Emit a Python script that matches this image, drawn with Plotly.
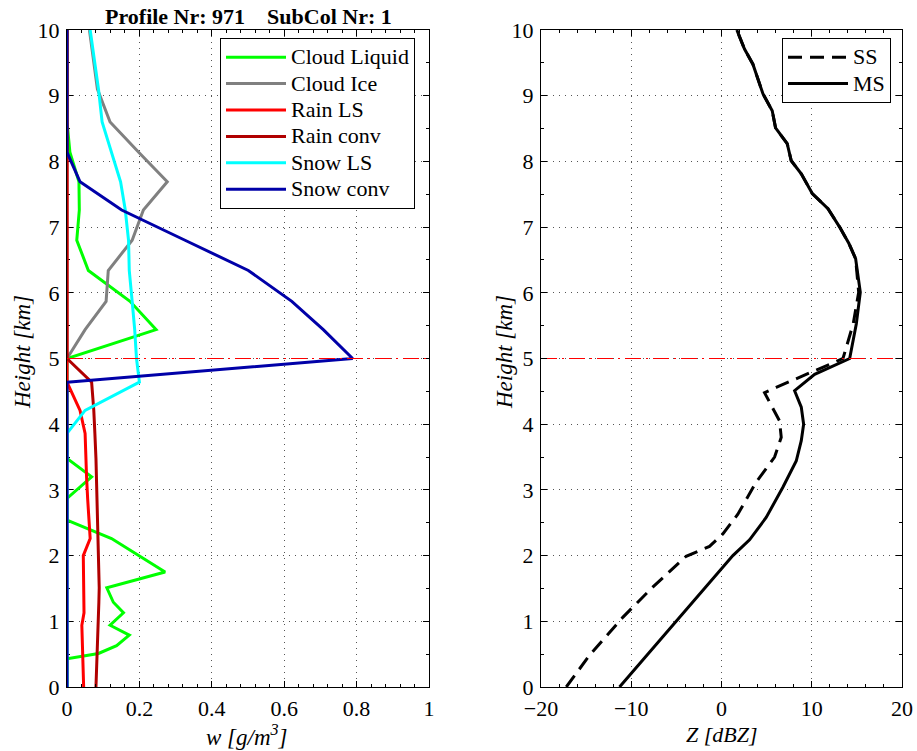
import plotly.graph_objects as go

# ---- hydrometeor profiles (model levels, km) ----
levels_km = [0.0, 0.43, 0.51, 0.63, 0.79, 0.94, 1.13, 1.29, 1.51, 1.75, 2.0, 2.26,
             2.54, 2.87, 3.2, 3.48, 3.86, 4.21, 4.64, 5.0, 5.44, 5.87, 6.34, 6.8,
             7.26, 7.69, 8.14, 8.6, 9.1, 9.6, 10.0]

cloud_liquid = [0.0, 0.0, 0.087, 0.137, 0.172, 0.119, 0.156, 0.128, 0.110, 0.271, 0.198, 0.123,
                0.0, 0.0, 0.068, 0.0, 0.0, 0.0, 0.0, 0.0, 0.246, 0.174, 0.059, 0.027,
                0.034, 0.033, 0.008, 0.0, 0.0, 0.0, 0.0]
cloud_ice = [0.0, 0.0, 0.0, 0.0, 0.0, 0.0, 0.0, 0.0, 0.0, 0.0, 0.0, 0.0,
             0.0, 0.0, 0.0, 0.0, 0.0, 0.0, 0.0, 0.0, 0.050, 0.108, 0.114, 0.180,
             0.211, 0.277, 0.198, 0.119, 0.084, 0.072, 0.062]
rain_ls = [0.046, 0.044, 0.044, 0.043, 0.042, 0.041, 0.047, 0.047, 0.046, 0.046, 0.045, 0.064,
           0.060, 0.057, 0.054, 0.052, 0.050, 0.036, 0.0, 0.0, 0.0, 0.0, 0.0, 0.0,
           0.0, 0.0, 0.0, 0.0, 0.0, 0.0, 0.0]
rain_conv = [0.080, 0.083, 0.084, 0.085, 0.086, 0.087, 0.088, 0.088, 0.089, 0.088, 0.087, 0.086,
             0.085, 0.084, 0.082, 0.080, 0.077, 0.074, 0.068, 0.0, 0.0, 0.0, 0.0, 0.0,
             0.0, 0.0, 0.0, 0.0, 0.0, 0.0, 0.0]
snow_ls = [0.0, 0.0, 0.0, 0.0, 0.0, 0.0, 0.0, 0.0, 0.0, 0.0, 0.0, 0.0,
           0.0, 0.0, 0.0, 0.0, 0.0, 0.050, 0.200, 0.192, 0.187, 0.180, 0.172, 0.170,
           0.161, 0.148, 0.122, 0.097, 0.087, 0.075, 0.064]
snow_conv = [0.0, 0.0, 0.0, 0.0, 0.0, 0.0, 0.0, 0.0, 0.0, 0.0, 0.0, 0.0,
             0.0, 0.0, 0.0, 0.0, 0.0, 0.0, 0.0, 0.789, 0.708, 0.621, 0.501, 0.326,
             0.151, 0.036, 0.0, 0.0, 0.0, 0.0, 0.0]

# ---- radar reflectivity profiles ----
ms_height = [0.0, 1.24, 2.0, 2.24, 2.58, 3.04, 3.44, 3.75, 4.0, 4.26, 4.51, 4.76, 5.0,
             5.53, 6.01, 6.52, 6.75, 7.0, 7.28, 7.51, 7.81, 8.01, 8.27, 8.51, 8.77,
             9.03, 9.48, 9.71, 10.0]
ms_dbz = [-11.3, -3.55, 1.26, 3.11, 4.95, 6.80, 8.28, 8.84, 9.10, 8.84, 8.10, 10.32, 14.20,
          14.94, 15.38, 14.86, 14.12, 13.09, 11.80, 10.06, 8.84, 7.73, 7.28, 5.99, 5.62,
          4.59, 3.48, 2.55, 1.70]
ss_height = [0.0, 0.48, 1.06, 1.52, 1.99, 2.14, 2.33, 2.63, 3.12, 3.5, 3.8, 4.05, 4.48,
             4.56, 5.0, 5.53, 6.01, 6.52, 6.75, 7.0, 7.28, 7.51, 7.81, 8.01, 8.27, 8.51,
             8.77, 9.03, 9.48, 9.71, 10.0]
ss_dbz = [-17.2, -14.64, -10.94, -7.62, -3.92, -1.33, 0.15, 1.81, 3.85, 5.88, 6.62, 6.43, 4.77,
          6.06, 13.46, 14.6, 15.2, 14.86, 14.12, 13.09, 11.80, 10.06, 8.84, 7.73, 7.28, 5.99,
          5.62, 4.59, 3.48, 2.55, 1.70]

melting_layer_km = 5.0
title_text = "Profile Nr: 971    SubCol Nr: 1"

W, H = 917, 751
FONT = "Liberation Serif, Times New Roman, Times, DejaVu Serif, serif"
LEGEND_TEXT_PX = 22


def px_x(p):
    return p / W


def px_y(p):
    return 1 - p / H


def legend_label(s):
    return '<span style="font-size:%dpx">%s</span>' % (LEGEND_TEXT_PX, s)


fig = go.Figure()

hydro = [
    ("Cloud Liquid", cloud_liquid, "#00ff00"),
    ("Cloud Ice", cloud_ice, "#808080"),
    ("Rain LS", rain_ls, "#ff0000"),
    ("Rain conv", rain_conv, "#b00000"),
    ("Snow LS", snow_ls, "#00ffff"),
    ("Snow conv", snow_conv, "#0000a8"),
]
for name, vals, col in hydro:
    fig.add_trace(go.Scatter(x=vals, y=levels_km, mode="lines", name=legend_label(name),
                             line=dict(color=col, width=3), xaxis="x", yaxis="y",
                             legend="legend"))

fig.add_trace(go.Scatter(x=ss_dbz, y=ss_height, mode="lines", name=legend_label("SS"),
                         line=dict(color="black", width=3, dash="14px,8px"),
                         xaxis="x2", yaxis="y2", legend="legend2"))
fig.add_trace(go.Scatter(x=ms_dbz, y=ms_height, mode="lines", name=legend_label("MS"),
                         line=dict(color="black", width=3),
                         xaxis="x2", yaxis="y2", legend="legend2"))

# melting layer marker on both panels
for xa, ya, rng in [("x", "y", [0, 1]), ("x2", "y2", [-20, 20])]:
    fig.add_trace(go.Scatter(x=rng, y=[melting_layer_km] * 2, mode="lines",
                             line=dict(color="red", width=1, dash="16px,5px,2px,5px"),
                             xaxis=xa, yaxis=ya, showlegend=False, hoverinfo="skip"))

y_dom = [px_y(687), px_y(30)]
axis_common = dict(
    automargin=False,
    showline=True, linecolor="black", linewidth=1, mirror="ticks",
    ticks="inside", ticklen=6, tickwidth=1, tickcolor="black",
    showgrid=True, gridcolor="#555555", gridwidth=1, griddash="1px,5px",
    zeroline=False, tickfont=dict(family=FONT, size=22, color="black"),
    minor=dict(ticks="inside", ticklen=3, tickcolor="black", showgrid=False),
)

legend_common = dict(
    yanchor="top", xanchor="left", bgcolor="white", bordercolor="black", borderwidth=1,
    font=dict(family=FONT, size=18, color="black"), itemwidth=60, tracegroupgap=0,
)

fig.update_layout(
    template="none",
    width=W, height=H, margin=dict(l=0, r=0, t=0, b=0, autoexpand=False),
    paper_bgcolor="white", plot_bgcolor="white",
    font=dict(family=FONT, color="black"),
    xaxis=dict(domain=[px_x(67), px_x(429)], range=[0, 1], dtick=0.2,
               anchor="y", ticklabelstandoff=2, **axis_common),
    yaxis=dict(domain=y_dom, range=[0, 10], dtick=1, anchor="x", ticklabelstandoff=2,
               layer="below traces", **axis_common),
    xaxis2=dict(domain=[px_x(541), px_x(902)], range=[-20, 20], dtick=10,
                anchor="y2", ticklabelstandoff=2, **axis_common),
    yaxis2=dict(domain=y_dom, range=[0, 10], dtick=1, anchor="x2", ticklabelstandoff=2,
                **axis_common),
    legend=dict(x=px_x(220), y=px_y(38), **legend_common),
    legend2=dict(x=px_x(782), y=px_y(38), **legend_common),
)
fig.layout.xaxis.minor.dtick = 0.04
fig.layout.yaxis.minor.dtick = 0.5
fig.layout.xaxis2.minor.dtick = 2
fig.layout.yaxis2.minor.dtick = 0.5

annots = [
    dict(text="<b>" + title_text.replace(" ", "&nbsp;") + "</b>", x=px_x(248), y=px_y(16),
         size=22, angle=0),
    dict(text="<i>w [g/m<sup>3</sup>]</i>", x=px_x(247), y=px_y(735), size=23, angle=0),
    dict(text="<i>Z [dBZ]</i>", x=px_x(722), y=px_y(734), size=22, angle=0),
    dict(text="<i>Height [km]</i>", x=px_x(22), y=px_y(352), size=23, angle=-90),
    dict(text="<i>Height [km]</i>", x=px_x(504), y=px_y(352), size=23, angle=-90),
]
for a in annots:
    fig.add_annotation(xref="paper", yref="paper", showarrow=False,
                       xanchor="center", yanchor="middle",
                       font=dict(family=FONT, color="black", size=a["size"]),
                       text=a["text"], x=a["x"], y=a["y"], textangle=a["angle"])

fig.write_html("out.html")
